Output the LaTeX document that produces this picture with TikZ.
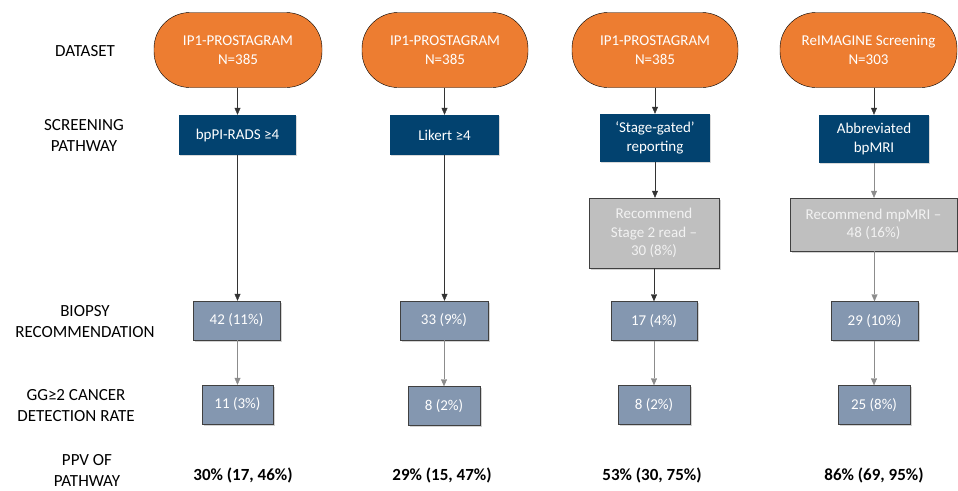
\documentclass[tikz,border=0pt]{standalone}
\usepackage{fontspec}
\setmainfont{Carlito}
\usepackage{xcolor}
\usetikzlibrary{positioning, arrows.meta, shadows}

\definecolor{dsorange}{HTML}{ED7D31}
\definecolor{pathblue}{HTML}{02426F}
\definecolor{recgray}{HTML}{BFBFBF}
\definecolor{biopslate}{HTML}{8497B0}

\tikzset{
    boxfont/.style={font=\fontsize{15}{18.5}\selectfont},
    dataset/.style={draw=black, fill=dsorange, rounded corners=36pt, text=white,
        align=center, boxfont, minimum height=75pt, inner sep=2pt},
    pathway/.style={fill=pathblue, text=white, align=center, boxfont,
        drop shadow={shadow xshift=1.2pt, shadow yshift=-1.2pt, opacity=0.3}, inner sep=2pt},
    recbox/.style={draw=black!75, fill=recgray, text=white!95!black, align=center, boxfont,
        drop shadow={shadow xshift=1.5pt, shadow yshift=-1.5pt, opacity=0.35}, inner sep=2pt},
    resultbox/.style={draw=black!75, fill=biopslate, text=white, align=center, boxfont,
        minimum height=39pt, drop shadow={shadow xshift=1.5pt, shadow yshift=-1.5pt, opacity=0.35}, inner sep=2pt},
    rowlabel/.style={align=center, font=\fontsize{17}{21}\selectfont},
    ppv/.style={font=\fontsize{17}{21}\selectfont\bfseries},
    flow/.style={draw=black!80, -{Triangle[length=7pt,width=6pt]}},
    greyflow/.style={draw=black!45, -{Triangle[length=7pt,width=6pt]}}
}

\begin{document}
\begin{tikzpicture}[x=1pt, y=-1pt]

    \useasboundingbox (0,0) rectangle (958,490);

    % --- ROW LABELS ---
    \node[rowlabel] (lbdata) at (85,51) {DATASET};
    \node[rowlabel] (lbpath) at (84,135) {SCREENING\\PATHWAY};
    \node[rowlabel] (lbbiop) at (85,322) {BIOPSY\\RECOMMENDATION};
    \node[rowlabel] (lbcdr)  at (76,406) {GG≥2 CANCER\\DETECTION RATE};
    \node[rowlabel] (lbppv)  at (87,470) {PPV OF\\PATHWAY};

    % --- COLUMN 1: bpPI-RADS ---
    \node[dataset, minimum width=168pt] (d1) at (238,50) {IP1-PROSTAGRAM\\N=385};
    \node[pathway, minimum width=117pt, minimum height=40pt] (s1) at (237.5,135) {bpPI-RADS ≥4};
    \node[resultbox, minimum width=87pt] (b1) at (236.5,320.5) {42 (11\%)};
    \node[resultbox, minimum width=71pt] (g1) at (237.5,404.5) {11 (3\%)};
    \node[ppv] (p1) at (243,475) {30\% (17, 46\%)};

    % --- COLUMN 2: Likert ---
    \node[dataset, minimum width=166pt] (d2) at (445,50) {IP1-PROSTAGRAM\\N=385};
    \node[pathway, minimum width=109pt, minimum height=40pt] (s2) at (444.5,135) {Likert ≥4};
    \node[resultbox, minimum width=88pt] (b2) at (444,320.5) {33 (9\%)};
    \node[resultbox, minimum width=72pt] (g2) at (444,406) {8 (2\%)};
    \node[ppv] (p2) at (442,475) {29\% (15, 47\%)};

    % --- COLUMN 3: stage-gated ---
    \node[dataset, minimum width=166pt] (d3) at (655,50) {IP1-PROSTAGRAM\\N=385};
    \node[pathway, minimum width=110pt, minimum height=48pt] (s3) at (655,138) {‘Stage-gated’\\reporting};
    \node[recbox, minimum width=130pt, minimum height=70pt] (r3) at (654,233) {Recommend\\Stage 2 read –\\30 (8\%)};
    \node[resultbox, minimum width=86pt] (b3) at (654,321) {17 (4\%)};
    \node[resultbox, minimum width=72pt] (g3) at (654,405) {8 (2\%)};
    \node[ppv] (p3) at (652,475) {53\% (30, 75\%)};

    % --- COLUMN 4: abbreviated bpMRI ---
    \node[dataset, minimum width=177pt] (d4) at (868.5,50) {ReIMAGINE Screening\\N=303};
    \node[pathway, minimum width=110pt, minimum height=48pt] (s4) at (874,139) {Abbreviated\\bpMRI};
    \node[recbox, minimum width=167pt, minimum height=53pt] (r4) at (873.5,224.5) {Recommend mpMRI –\\48 (16\%)};
    \node[resultbox, minimum width=87pt] (b4) at (874.5,321) {29 (10\%)};
    \node[resultbox, minimum width=72pt] (g4) at (874,405) {25 (8\%)};
    \node[ppv] (p4) at (874,475) {86\% (69, 95\%)};

    % --- CONNECTORS ---
    \draw[flow] (d1.south -| s1) -- (s1.north);
    \draw[flow] (s1.south) -- (s1.south |- b1.north);
    \draw[greyflow] (b1.south -| g1) -- (g1.north);

    \draw[flow] (d2.south -| s2) -- (s2.north);
    \draw[flow] (s2.south) -- (s2.south |- b2.north);
    \draw[greyflow] (b2.south) -- (g2.north);

    \draw[flow] (d3.south) -- (d3.south |- s3.north);
    \draw[flow] (s3.south) -- (s3.south |- r3.north);
    \draw[flow] (r3.south) -- (b3.north);
    \draw[greyflow] (b3.south) -- (g3.north);

    \draw[flow] (d4.south -| s4) -- (s4.north);
    \draw[greyflow] (s4.south) -- (s4.south |- r4.north);
    \draw[greyflow] (r4.south -| b4) -- (b4.north);
    \draw[greyflow] (b4.south -| g4) -- (g4.north);

\end{tikzpicture}
\end{document}
